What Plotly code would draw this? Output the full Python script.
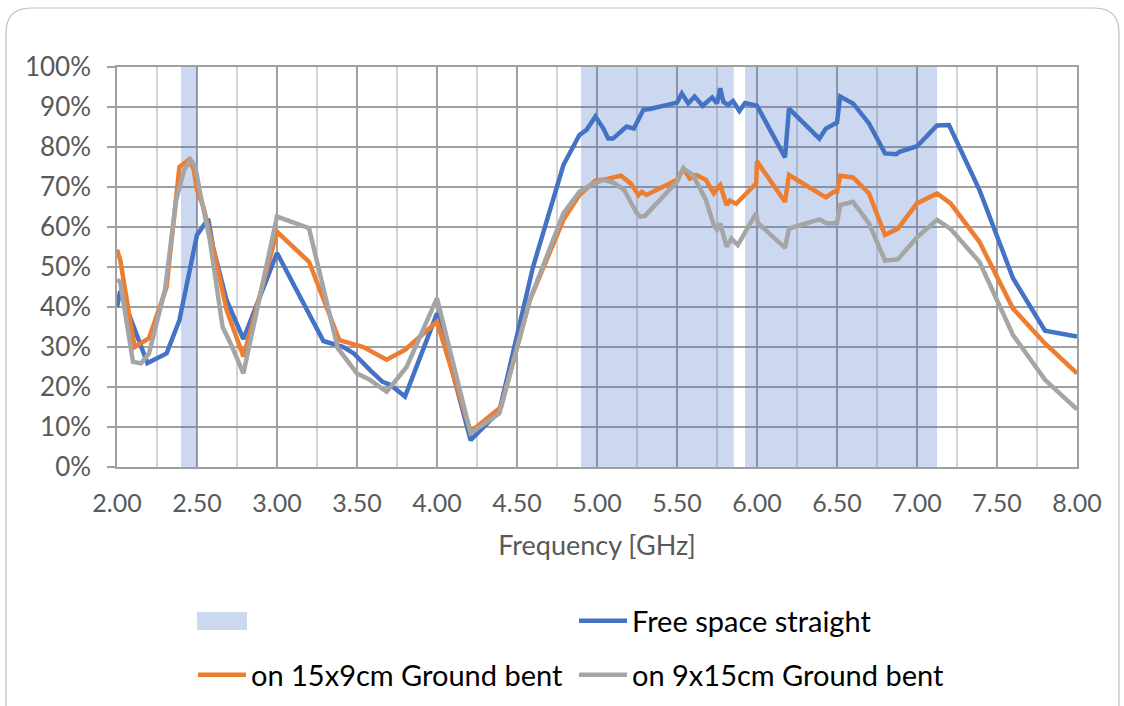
import plotly.graph_objects as go

# Frequency sweep points (GHz) and efficiency (%) for each configuration
freq_free = [2.00, 2.02, 2.19, 2.31, 2.39, 2.48, 2.50, 2.57, 2.60, 2.685, 2.79, 3.00, 3.29,
             3.415, 3.48, 3.58, 3.66, 3.71, 3.80, 4.00, 4.21, 4.39, 4.60, 4.79, 4.89, 4.935,
             4.99, 5.04, 5.07, 5.10, 5.185, 5.23, 5.29, 5.33, 5.50, 5.53, 5.57, 5.61, 5.66,
             5.72, 5.75, 5.77, 5.79, 5.82, 5.85, 5.89, 5.925, 6.00, 6.175, 6.20, 6.39, 6.43,
             6.50, 6.52, 6.60, 6.70, 6.80, 6.87, 6.89, 7.00, 7.125, 7.20, 7.39, 7.60, 7.80, 8.00]
eff_free = [40.0, 44.0, 26.0, 28.4, 36.7, 55.0, 58.0, 62.0, 55.0, 41.7, 32.0, 53.5, 31.5,
            30.0, 28.4, 24.3, 21.3, 20.5, 17.6, 38.4, 6.7, 14.0, 50.0, 75.5, 83.0, 84.3,
            87.6, 84.6, 82.1, 82.1, 85.1, 84.6, 89.3, 89.5, 91.1, 93.4, 90.9, 92.6, 90.3,
            92.4, 90.9, 94.7, 91.3, 90.5, 91.5, 89.0, 91.0, 90.3, 77.4, 89.6, 82.1, 84.6,
            86.1, 92.6, 90.9, 85.9, 78.4, 78.2, 78.8, 80.2, 85.4, 85.5, 69.3, 47.2, 34.1, 32.6]

freq_15x9 = [2.00, 2.02, 2.11, 2.20, 2.31, 2.39, 2.45, 2.48, 2.50, 2.54, 2.60, 2.685, 2.79,
             3.00, 3.20, 3.39, 3.54, 3.685, 3.80, 4.00, 4.21, 4.40, 4.58, 4.79, 4.89, 4.99,
             5.05, 5.15, 5.21, 5.26, 5.28, 5.31, 5.50, 5.54, 5.58, 5.62, 5.68, 5.73, 5.76,
             5.77, 5.81, 5.83, 5.87, 5.995, 6.00, 6.175, 6.20, 6.43, 6.48, 6.50, 6.52, 6.60,
             6.70, 6.80, 6.88, 7.00, 7.125, 7.21, 7.39, 7.60, 7.80, 8.00]
eff_15x9 = [54.3, 51.8, 30.0, 32.2, 45.0, 75.0, 76.8, 74.3, 69.3, 65.0, 55.0, 39.3, 27.6,
            58.8, 51.3, 31.7, 30.0, 26.8, 29.3, 36.3, 8.8, 15.0, 41.7, 61.8, 68.0, 71.6,
            71.9, 72.8, 70.9, 68.0, 68.8, 68.0, 71.8, 74.6, 72.1, 73.0, 71.8, 68.4, 70.1,
            70.5, 65.5, 66.6, 65.8, 70.9, 76.4, 66.3, 73.0, 67.4, 68.8, 68.8, 72.8, 72.4,
            68.4, 58.0, 59.6, 65.9, 68.4, 65.9, 56.3, 39.6, 30.9, 23.4]

freq_9x15 = [2.00, 2.02, 2.10, 2.15, 2.20, 2.30, 2.37, 2.42, 2.46, 2.49, 2.52, 2.58, 2.66,
             2.71, 2.79, 3.00, 3.20, 3.38, 3.50, 3.58, 3.685, 3.81, 4.00, 4.21, 4.39, 4.58,
             4.79, 4.89, 4.96, 5.04, 5.10, 5.17, 5.22, 5.25, 5.27, 5.30, 5.50, 5.54, 5.60,
             5.68, 5.73, 5.75, 5.77, 5.81, 5.84, 5.88, 5.995, 6.005, 6.175, 6.20, 6.39, 6.435,
             6.50, 6.52, 6.60, 6.70, 6.80, 6.88, 7.00, 7.125, 7.21, 7.39, 7.60, 7.80, 8.00]
eff_9x15 = [46.8, 46.3, 26.3, 25.9, 28.4, 44.3, 66.8, 74.3, 76.8, 75.0, 68.4, 56.8, 35.0,
            30.9, 23.4, 62.6, 59.7, 29.7, 23.4, 21.8, 18.8, 25.0, 42.2, 8.4, 13.4, 41.7,
            63.4, 68.8, 70.5, 71.8, 71.1, 69.3, 65.5, 63.4, 62.6, 62.8, 71.3, 74.6, 73.0,
            66.8, 60.5, 59.3, 60.9, 55.1, 57.1, 55.5, 63.5, 61.0, 54.8, 59.6, 61.9, 60.9,
            61.0, 65.5, 66.3, 60.9, 51.6, 51.9, 57.4, 61.8, 59.5, 51.3, 33.0, 21.8, 14.4]

# Highlighted frequency bands (GHz)
band_start = [2.40, 4.90, 5.925]
band_end = [2.50, 5.855, 7.125]

series_names = ["Free space straight", "on 15x9cm Ground bent", "on 9x15cm Ground bent"]
series_colors = ["#4472C4", "#ED7D31", "#A5A5A5"]
BAND_FILL = "rgba(68,114,196,0.28)"

FONT = "Lato"
W, H = 1124, 706
ML, MR, MT, MB = 117, 47, 67, 239
PW, PH = W - ML - MR, H - MT - MB


def px_x(p):
    return (p - ML) / PW


def px_y(p):
    return (H - MB - p) / PH


fig = go.Figure()

# Shaded bands as one filled polygon trace
bx, by = [], []
for s, e in zip(band_start, band_end):
    bx += [s, s, e, e, s, None]
    by += [0, 1, 1, 0, 0, None]
fig.add_trace(go.Scatter(
    x=bx, y=by, mode="lines", fill="toself",
    fillcolor=BAND_FILL, line=dict(width=0),
    name=" ", showlegend=False, hoverinfo="skip"))

legend_ids = ["legend", "legend2", "legend3"]
for fx, fy, name, color, lg in zip([freq_free, freq_15x9, freq_9x15],
                                    [eff_free, eff_15x9, eff_9x15],
                                    series_names, series_colors, legend_ids):
    fig.add_trace(go.Scatter(
        x=fx, y=[v / 100 for v in fy], mode="lines", name=name,
        line=dict(color=color, width=4.5), legend=lg))

# Legend swatch for the shaded bands
fig.add_shape(type="rect", xref="paper", yref="paper",
              x0=px_x(197), x1=px_x(247), y0=px_y(630), y1=px_y(612),
              fillcolor=BAND_FILL, line=dict(width=0))

# Rounded chart-area border
r = 25
L_, R_, T_, B_ = 6, 1119, 8, 740
border = (f"M {px_x(L_)},{px_y(B_)} L {px_x(L_)},{px_y(T_ + r)} "
          f"Q {px_x(L_)},{px_y(T_)} {px_x(L_ + r)},{px_y(T_)} "
          f"L {px_x(R_ - r)},{px_y(T_)} "
          f"Q {px_x(R_)},{px_y(T_)} {px_x(R_)},{px_y(T_ + r)} "
          f"L {px_x(R_)},{px_y(B_)}")
fig.add_shape(type="path", path=border, xref="paper", yref="paper",
              line=dict(color="#BFBFBF", width=1.2), layer="below")

leg_common = dict(orientation="h", xanchor="left", yanchor="middle",
                  font=dict(family=FONT, size=29, color="#000000"),
                  bgcolor="rgba(0,0,0,0)", itemwidth=48)
fig.update_layout(
    width=W, height=H,
    margin=dict(l=ML, r=MR, t=MT, b=MB, autoexpand=False),
    paper_bgcolor="white", plot_bgcolor="white",
    font=dict(family=FONT, size=26, color="#595959"),
    showlegend=True,
    legend=dict(x=px_x(574), y=px_y(621), **leg_common),
    legend2=dict(x=px_x(193), y=px_y(675), **leg_common),
    legend3=dict(x=px_x(574), y=px_y(675), **leg_common),
    xaxis=dict(
        range=[2, 8], dtick=0.5, tick0=2, tickformat=".2f",
        showgrid=True, gridcolor="#A0A0A0", gridwidth=1.5,
        minor=dict(dtick=0.25, showgrid=True, gridcolor="#D3D3D3", gridwidth=1.5),
        showline=True, linecolor="#A0A0A0", linewidth=1.5, mirror=True,
        ticks="", ticklabelstandoff=13, zeroline=False,
        tickfont=dict(family=FONT, size=25, color="#595959"),
        title=dict(text="Frequency [GHz]", standoff=20,
                   font=dict(family=FONT, size=27, color="#595959")),
    ),
    yaxis=dict(
        range=[0, 1], dtick=0.1, tick0=0, tickformat=".0%",
        showgrid=True, gridcolor="#A0A0A0", gridwidth=1.5,
        showline=True, linecolor="#A0A0A0", linewidth=1.5, mirror=True,
        ticks="outside", ticklen=8, tickcolor="#A0A0A0", tickwidth=1.5,
        ticklabelstandoff=11, zeroline=False,
        tickfont=dict(family=FONT, size=26, color="#595959"),
    ),
)

fig.write_html("out.html")
